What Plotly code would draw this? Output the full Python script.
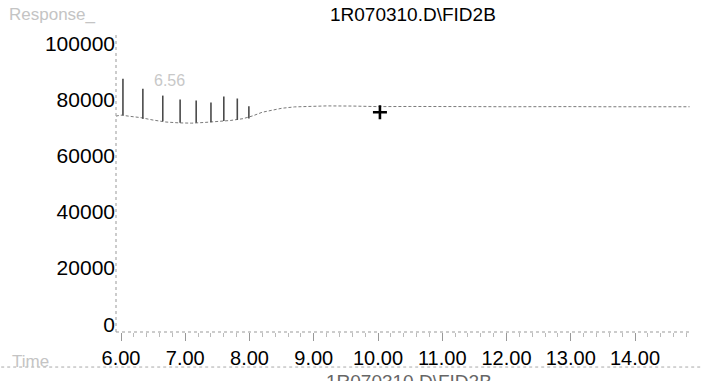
import plotly.graph_objects as go

# FID2B signal: baseline drift (retention time in min, response)
base_time = [5.92, 6.00, 6.15, 6.30, 6.50, 6.70, 6.90, 7.10, 7.30, 7.50, 7.70, 7.90,
             8.05, 8.20, 8.35, 8.50, 8.70, 8.90, 9.20, 9.60, 10.0, 10.5, 11.0,
             11.5, 12.0, 12.5, 13.0, 13.5, 14.0, 14.5, 14.85]
base_resp = [74200, 74570, 74100, 73700, 72800, 72100, 71800, 71700, 71950, 72300,
             72650, 73300, 74300, 75600, 76300, 77000, 77500, 77700, 77850, 77800,
             77600, 77650, 77500, 77600, 77550, 77650, 77600, 77550, 77600, 77500, 77550]

# Sharp spikes riding on the baseline
spike_time = [6.03, 6.34, 6.65, 6.92, 7.17, 7.40, 7.60, 7.81, 7.99]
spike_low = [74500, 73300, 72400, 71800, 71800, 72000, 72500, 72900, 73400]
spike_top = [87560, 83970, 81530, 80140, 79790, 79090, 81180, 80490, 77700]

# Marker cross
mark_time = [10.03]
mark_resp = [75600]

peak_label = "6.56"
peak_label_time = 6.75
peak_label_resp = 86800

x_ticks = [6, 7, 8, 9, 10, 11, 12, 13, 14]
x_tick_text = ["6.00", "7.00", "8.00", "9.00", "10.00", "11.00", "12.00", "13.00", "14.00"]
y_ticks = [0, 20000, 40000, 60000, 80000, 100000]
y_tick_text = ["0", "20000", "40000", "60000", "80000", "100000"]

title_text = "1R070310.D\\FID2B"

# vertical segments for the spikes
sx, sy = [], []
for t, lo, hi in zip(spike_time, spike_low, spike_top):
    sx += [t, t, None]
    sy += [lo, hi, None]

fig = go.Figure()
fig.add_trace(go.Scatter(x=base_time, y=base_resp, mode="lines",
                         line=dict(color="#7a7a7a", width=1, dash="3px,2px"),
                         hoverinfo="skip"))
fig.add_trace(go.Scatter(x=sx, y=sy, mode="lines",
                         line=dict(color="#4a4a4a", width=1.6),
                         hoverinfo="skip"))
fig.add_trace(go.Scatter(x=mark_time, y=mark_resp, mode="markers",
                         marker=dict(symbol="cross-thin", size=10,
                                     line=dict(color="black", width=2.6)),
                         hoverinfo="skip"))

font_main = "Liberation Sans, Arial, sans-serif"

fig.update_layout(
    width=703, height=381,
    margin=dict(l=116, r=13, t=35, b=42),
    paper_bgcolor="white", plot_bgcolor="white",
    showlegend=False,
    font=dict(family=font_main, color="black"),
    xaxis=dict(range=[5.922, 14.856], tickvals=x_ticks, ticktext=x_tick_text,
               showgrid=False, zeroline=False, showline=False,
               ticks="outside", ticklen=8, tickcolor="#999", tickwidth=1,
               tickfont=dict(size=20, family=font_main, color="black"),
               minor=dict(dtick=0.2, ticks="outside", ticklen=4, tickcolor="#bbb")),
    yaxis=dict(range=[-2790, 103140], tickvals=y_ticks, ticktext=y_tick_text,
               showgrid=False, zeroline=False, showline=False, ticks="",
               tickfont=dict(size=21, family=font_main, color="black")),
    shapes=[
        dict(type="line", xref="paper", yref="paper", x0=0, x1=0, y0=0, y1=1,
             line=dict(color="#999", width=1, dash="dot")),
        dict(type="line", xref="paper", yref="paper", x0=0, x1=1, y0=0, y1=0,
             line=dict(color="#999", width=1, dash="dot")),
        dict(type="line", xref="paper", yref="paper", x0=-0.2, x1=1.02,
             y0=-0.118, y1=-0.118, line=dict(color="#aaa", width=1, dash="dot")),
    ],
    annotations=[
        dict(text=title_text, xref="paper", yref="paper", x=0.517, y=1.069,
             xanchor="center", yanchor="middle", showarrow=False,
             font=dict(size=19, family=font_main, color="black")),
        dict(text="Response_", xref="paper", yref="paper", x=-0.19, y=1.069,
             xanchor="left", yanchor="middle", showarrow=False,
             font=dict(size=17, family=font_main, color="#c4c4c4")),
        dict(text="Time", xref="paper", yref="paper", x=-0.185, y=-0.099,
             xanchor="left", yanchor="middle", showarrow=False,
             font=dict(size=17, family=font_main, color="#c4c4c4")),
        dict(text=title_text, xref="paper", yref="paper", x=0.511, y=-0.125,
             xanchor="center", yanchor="top", showarrow=False,
             font=dict(size=19, family=font_main, color="#666")),
        dict(text=peak_label, x=peak_label_time, y=peak_label_resp,
             xanchor="center", yanchor="middle", showarrow=False,
             font=dict(size=16, family=font_main, color="#c8c8c8")),
    ],
)

fig.write_html("out.html")
